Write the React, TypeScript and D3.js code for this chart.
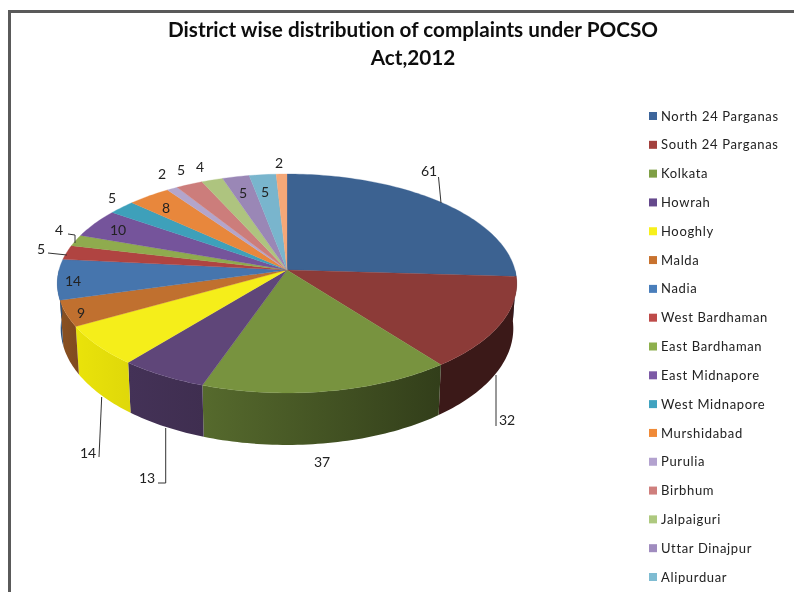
import React from "react";
import * as d3 from "d3";

// DATA
const districts = [
  "North 24 Parganas", "South 24 Parganas", "Kolkata", "Howrah", "Hooghly", "Malda",
  "Nadia", "West Bardhaman", "East Bardhaman", "East Midnapore", "West Midnapore",
  "Murshidabad", "Purulia", "Birbhum", "Jalpaiguri", "Uttar Dinajpur", "Alipurduar",
];
// the last slice has no legend row in the picture, the legend runs off the page
const complaints = [61, 32, 37, 13, 14, 9, 14, 5, 4, 10, 5, 8, 2, 5, 4, 5, 5, 2];
const titleLines = ["District wise distribution of complaints under POCSO", "Act,2012"];

const topColors = [
  "#3c6291", "#8c3b38", "#78933f", "#5f4679", "#f5ee1a", "#c0702f", "#4675ad", "#b04441", "#8fab4e",
  "#75549b", "#3ea0ba", "#e8873c", "#b3a5cb", "#cc7d7b", "#aec47f", "#9a87b6", "#79b5cd", "#f5a878",
];
const legendColors = [
  "#3d659b", "#a33f3c", "#7f9f45", "#654a8c", "#f7f01a", "#c8722f", "#4a7ebb", "#be4b48", "#8eb04e",
  "#7b5aa6", "#3fa3c0", "#f08a38", "#b3a2cf", "#cf7f7d", "#aec97f", "#a08cbf", "#7fbcd2",
];

// label position, then the leader line if it has one
const labelLayout: { x: number; y: number; leader?: [number, number][] }[] = [
  { x: 429, y: 171, leader: [[438.5, 177], [441, 203]] },
  { x: 507, y: 420, leader: [[496, 375], [496, 426]] },
  { x: 322, y: 462 },
  { x: 147, y: 478, leader: [[165.7, 428], [165.7, 483], [158, 483]] },
  { x: 88, y: 453, leader: [[101.7, 397], [99, 457]] },
  { x: 81, y: 313 },
  { x: 73, y: 281 },
  { x: 41, y: 249, leader: [[48, 253], [67, 255]] },
  { x: 59, y: 230, leader: [[68, 234], [75, 235], [75, 243]] },
  { x: 118, y: 230 },
  { x: 112, y: 198 },
  { x: 166, y: 208 },
  { x: 162, y: 174 },
  { x: 181, y: 170 },
  { x: 200, y: 167 },
  { x: 243, y: 193 },
  { x: 265, y: 192 },
  { x: 279, y: 163 },
];

const width = 794;
const height = 592;
const cx = 287;
const cy = 270;
const radiusX = 228;
const radiusY = 107.8;
const tilt = 0.123;
const font = "Lato, 'Open Sans', sans-serif";

// pie angle -> point on the tilted disc, with a bit of perspective toward the viewer
const project = (angle: number, drop = 0): [number, number] => {
  const u = Math.sin(angle);
  const v = -Math.cos(angle);
  const w = 1 - tilt * v;
  const shrink = drop ? 0.985 : 1;
  return [
    cx + (radiusX * u * shrink) / w,
    cy + (radiusY * v) / w + (drop ? 44 + 8 * v : 0),
  ];
};

const arcAngles = (a0: number, a1: number) => {
  const n = Math.max(2, Math.ceil((a1 - a0) / 0.02));
  return d3.range(n + 1).map((i) => a0 + ((a1 - a0) * i) / n);
};

const line = d3.line<[number, number]>().x((d) => d[0]).y((d) => d[1]);

const slices = d3
  .pie<number>()
  .sort(null)
  .value((d) => d)(complaints);

const legendY = d3
  .scaleLinear()
  .domain([0, districts.length - 1])
  .range([116, 577]);

export default function App() {
  return (
    <svg
      width={width}
      height={height}
      viewBox={`0 0 ${width} ${height}`}
      style={{ position: "absolute", left: 0, top: 0, background: "#fff" }}
    >
      <defs>
        <filter id="soft">
          <feGaussianBlur stdDeviation="0.4" />
        </filter>
        {slices.map((s, i) => {
          const c = d3.hsl(topColors[i]);
          const dark = i === 1 ? 0.42 : i === 4 ? 0.9 : 0.72;
          const darker = i === 1 ? 0.42 : i === 2 ? 0.42 : i === 4 ? 0.86 : 0.66;
          return (
            <linearGradient key={i} id={`side${i}`} x1="0" x2="1" y1="0" y2="0">
              <stop offset="0" stopColor={c.copy({ l: c.l * dark }).formatHex()} />
              <stop offset="1" stopColor={c.copy({ l: c.l * darker }).formatHex()} />
            </linearGradient>
          );
        })}
      </defs>

      {/* FRAME */}
      <path d={line([[9.5, height], [9.5, 11.5], [width, 11.5]]) || ""} fill="none" stroke="#5a5a5a" strokeWidth={3} />

      {/* SIDE WALLS */}
      {slices.map((s, i) => {
        const a0 = Math.max(s.startAngle, Math.PI / 2);
        const a1 = Math.min(s.endAngle, (3 * Math.PI) / 2);
        if (a1 <= a0) return null;
        const angles = arcAngles(a0, a1);
        const pts = [
          ...angles.map((a) => project(a)),
          ...angles.slice().reverse().map((a) => project(a, 1)),
        ];
        return <path key={i} d={(line(pts) || "") + "Z"} fill={`url(#side${i})`} />;
      })}

      {/* TOP FACE */}
      {slices.map((s, i) => {
        const pts: [number, number][] = [[cx, cy], ...arcAngles(s.startAngle, s.endAngle).map((a) => project(a))];
        return <path key={i} d={(line(pts) || "") + "Z"} fill={topColors[i]} stroke={topColors[i]} strokeWidth={0.3} />;
      })}

      <g filter="url(#soft)" fontFamily={font}>
        {/* TITLE */}
        {titleLines.map((t, i) => (
          <text
            key={t}
            x={413}
            y={37 + i * 28}
            textAnchor="middle"
            fontSize={20.7}
            fontWeight={700}
            fill="#111"
            style={{ fontVariantLigatures: "none" }}
          >
            {t}
          </text>
        ))}

        {/* DATA LABELS */}
        {complaints.map((v, i) => (
          <g key={i}>
            {labelLayout[i].leader && (
              <path d={line(labelLayout[i].leader!) || ""} fill="none" stroke="#333" strokeWidth={1} />
            )}
            <text x={labelLayout[i].x} y={labelLayout[i].y} dy="0.35em" textAnchor="middle" fontSize={14} fill="#222">
              {v}
            </text>
          </g>
        ))}

        {/* LEGEND */}
        {districts.map((d, i) => (
          <g key={d} transform={`translate(649,${legendY(i)})`}>
            <rect x={0} y={-4} width={8} height={8} fill={legendColors[i]} />
            <text x={12} dy="0.35em" fontSize={13} letterSpacing={0.65} fill="#222">
              {d}
            </text>
          </g>
        ))}
      </g>
    </svg>
  );
}
